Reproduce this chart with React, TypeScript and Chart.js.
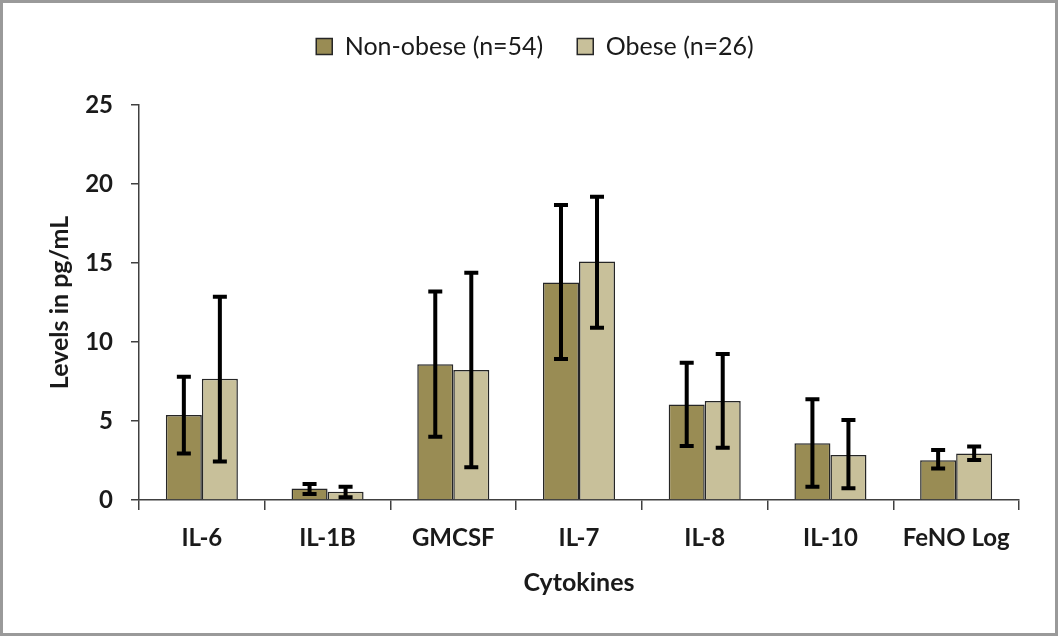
import React, { useEffect, useRef } from "react";
import { Chart, registerables } from "chart.js";

Chart.register(...registerables);

const categories = ["IL-6", "IL-1B", "GMCSF", "IL-7", "IL-8", "IL-10", "FeNO Log"];

const nonObese = [5.38, 0.72, 8.59, 13.76, 6.05, 3.59, 2.51];
const nonObeseLow = [2.95, 0.38, 4.01, 8.92, 3.42, 0.84, 2.0];
const nonObeseHigh = [7.8, 1.01, 13.19, 18.67, 8.69, 6.37, 3.16];

const obese = [7.68, 0.53, 8.23, 15.1, 6.27, 2.85, 2.95];
const obeseLow = [2.43, 0.17, 2.07, 10.9, 3.31, 0.74, 2.53];
const obeseHigh = [12.87, 0.84, 14.39, 19.2, 9.24, 5.06, 3.38];

const yTicks = [0, 5, 10, 15, 20, 25];

const errorLows = [nonObeseLow, obeseLow];
const errorHighs = [nonObeseHigh, obeseHigh];

const FONT = "Lato";
const AXIS = "#404040";

// whisker bars drawn on top of each bar, through the y scale
const errorBars = {
  id: "errorBars",
  afterDatasetsDraw(chart: any) {
    const { ctx } = chart;
    const y = chart.scales.y;
    ctx.save();
    ctx.strokeStyle = "#000";
    ctx.lineWidth = 4;
    chart.data.datasets.forEach((_: any, di: number) => {
      const meta = chart.getDatasetMeta(di);
      meta.data.forEach((bar: any, i: number) => {
        const top = y.getPixelForValue(errorHighs[di][i]);
        const bot = y.getPixelForValue(errorLows[di][i]);
        ctx.beginPath();
        ctx.moveTo(bar.x, top);
        ctx.lineTo(bar.x, bot);
        ctx.moveTo(bar.x - 7, top);
        ctx.lineTo(bar.x + 7, top);
        ctx.moveTo(bar.x - 7, bot);
        ctx.lineTo(bar.x + 7, bot);
        ctx.stroke();
      });
    });
    ctx.restore();
  },
};

// grey frame round the whole picture
const frame = {
  id: "frame",
  beforeDraw(chart: any) {
    const { ctx, width, height } = chart;
    ctx.save();
    ctx.fillStyle = "#fff";
    ctx.fillRect(0, 0, width, height);
    ctx.strokeStyle = "#9a9a9a";
    ctx.lineWidth = 3;
    ctx.strokeRect(1.5, 1.5, width - 4, height - 4);
    ctx.restore();
  },
};

// leave room under the legend
const legendMargin = {
  id: "legendMargin",
  beforeInit(chart: any) {
    const fit = chart.legend.fit;
    chart.legend.fit = function () {
      fit.bind(chart.legend)();
      this.height = 105;
    };
  },
};

export default function App() {
  const canvasRef = useRef<HTMLCanvasElement | null>(null);
  const chartRef = useRef<Chart | null>(null);

  useEffect(() => {
    if (!canvasRef.current) return;
    if (chartRef.current) chartRef.current.destroy();

    chartRef.current = new Chart(canvasRef.current, {
      type: "bar",
      data: {
        labels: categories,
        datasets: [
          {
            label: "Non-obese (n=54)",
            data: nonObese,
            backgroundColor: "#998c54",
            borderColor: "#262626",
            borderWidth: 1.5,
          },
          {
            label: "Obese (n=26)",
            data: obese,
            backgroundColor: "#c8c09a",
            borderColor: "#262626",
            borderWidth: 1.5,
          },
        ],
      },
      options: {
        responsive: false,
        animation: false,
        layout: { padding: { left: 51, right: 40, top: 0, bottom: 0 } },
        datasets: {
          bar: { categoryPercentage: 0.573, barPercentage: 1 },
        },
        plugins: {
          tooltip: { enabled: false },
          legend: {
            position: "top",
            labels: {
              boxWidth: 16,
              boxHeight: 16,
              padding: 34,
              color: "#1a1a1a",
              font: { family: FONT, size: 25 },
            },
          },
        },
        scales: {
          x: {
            afterFit(scale: any) {
              scale.height = 137;
            },
            grid: {
              drawOnChartArea: false,
              tickLength: 10,
              color: AXIS,
              lineWidth: 1.5,
            },
            border: { color: AXIS, width: 1.5 },
            ticks: {
              padding: 14,
              color: "#1a1a1a",
              font: { family: FONT, size: 24, weight: "bold" },
            },
            title: {
              display: true,
              text: "Cytokines",
              color: "#1a1a1a",
              padding: { top: 0, bottom: 39 },
              font: { family: FONT, size: 25, weight: "bold" },
            },
          },
          y: {
            min: 0,
            max: 25,
            afterFit(scale: any) {
              scale.width = 88;
            },
            afterBuildTicks(scale: any) {
              scale.ticks = yTicks.map((v) => ({ value: v }));
            },
            grid: {
              drawOnChartArea: false,
              tickLength: 8,
              color: AXIS,
              lineWidth: 1.5,
            },
            border: { color: AXIS, width: 1.5 },
            ticks: {
              padding: 18,
              color: "#1a1a1a",
              font: { family: FONT, size: 24, weight: "bold" },
            },
            title: {
              display: true,
              text: "Levels in pg/mL",
              color: "#1a1a1a",
              padding: { top: -6, bottom: 0 },
              font: { family: FONT, size: 25, weight: "bold" },
            },
          },
        },
      },
      plugins: [errorBars, frame, legendMargin],
    });

    return () => {
      if (chartRef.current) {
        chartRef.current.destroy();
        chartRef.current = null;
      }
    };
  }, []);

  return (
    <div style={{ position: "absolute", left: 0, top: 0, width: 1059, height: 637 }}>
      <canvas ref={canvasRef} width={1059} height={637} />
    </div>
  );
}
